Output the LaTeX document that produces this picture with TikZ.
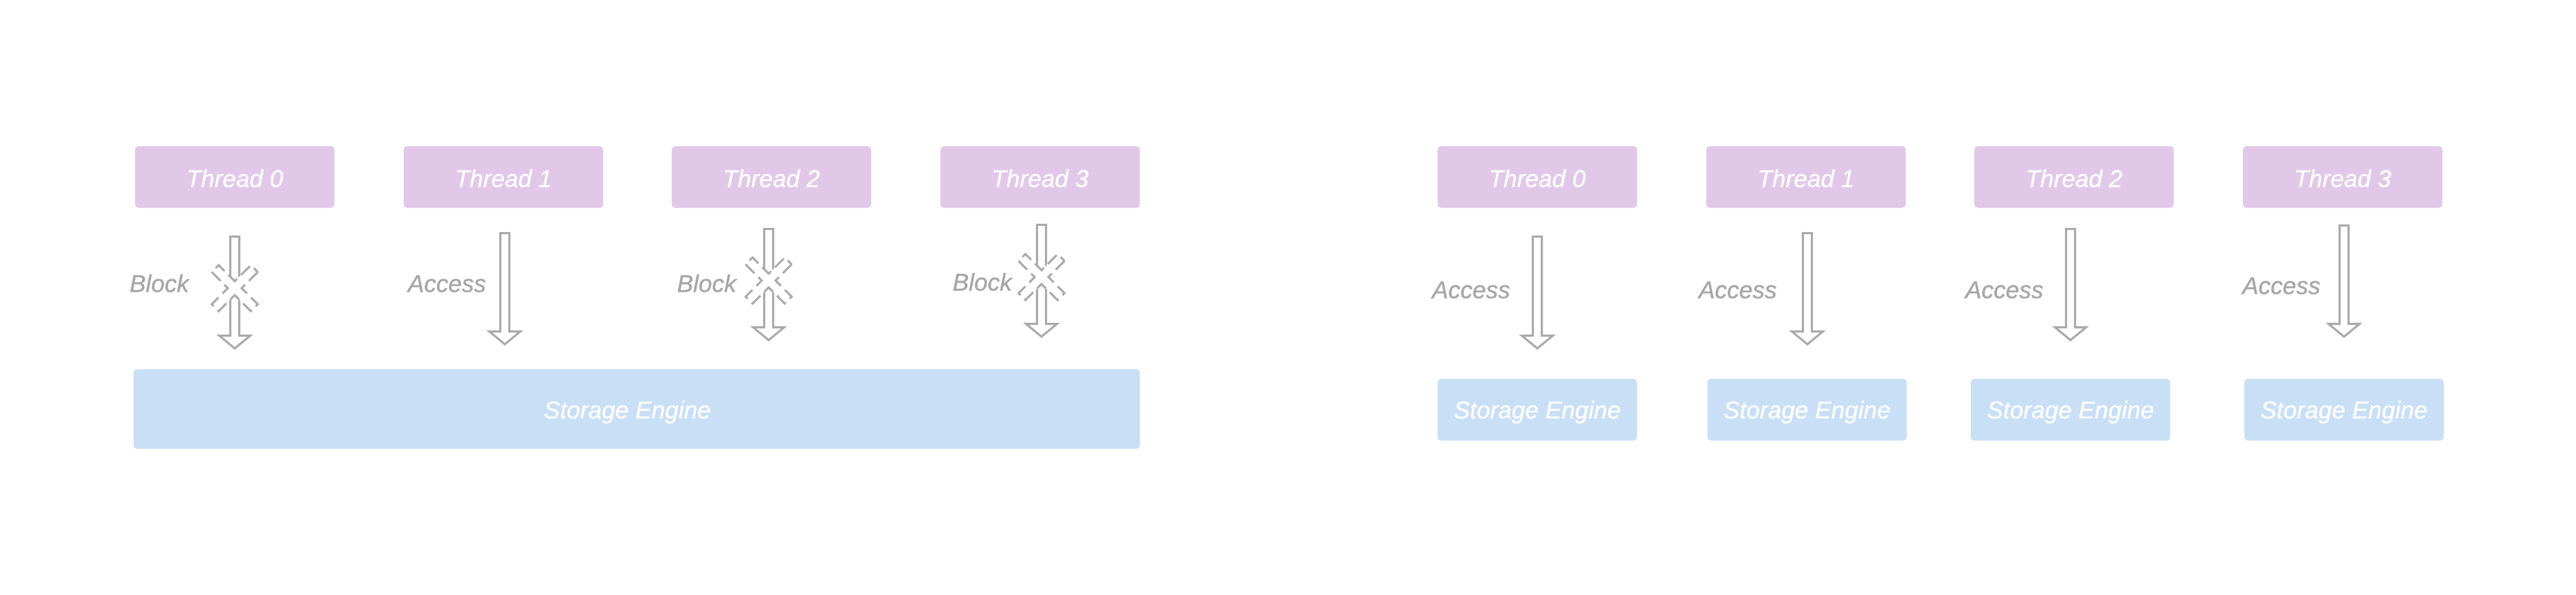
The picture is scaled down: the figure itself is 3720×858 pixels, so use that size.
\documentclass[tikz,border=0pt]{standalone}
\usepackage{fontspec}
\setmainfont{Liberation Sans}
\newfontfamily\medit{Liberation Sans}[UprightFont={* Italic}, FakeBold=0.7]
\definecolor{thrfill}{RGB}{225,200,232}
\definecolor{stgfill}{RGB}{201,223,246}
\definecolor{arrgray}{RGB}{170,170,170}
\definecolor{labelgray}{RGB}{166,166,166}
\newcommand\itfont{\medit\fontsize{17.5}{21}\selectfont}
\tikzset{
  threadbox/.style={fill=thrfill, rounded corners=2.5pt, minimum width=144pt, minimum height=44.5pt,
    inner sep=0pt, text=white, font=\itfont, text height=14.5pt, text depth=0pt},
  sebox/.style={fill=stgfill, rounded corners=2.5pt, minimum width=144pt, minimum height=44.5pt,
    inner sep=0pt, text=white, font=\itfont, text height=12.5pt, text depth=0pt},
  labeltext/.style={text=labelgray, font=\itfont, anchor=base, inner sep=0pt},
  sewhite/.style={text=white, font=\itfont, anchor=base, inner sep=0pt},
  barrowline/.style={draw=arrgray, line width=1.5pt, fill=white, line join=miter},
  blockx/.style={draw=arrgray, line width=1.5pt, fill=white, dash pattern=on 9pt off 4pt},
}
% block arrow: #1 = named top coordinate, #2 = length (px)
\newcommand\blockarrow[2]{%
  \draw[barrowline, shift={(#1)}] (-6.5,1.5) -- (6.5,1.5) -- (6.5,#2-20.5) -- (22.5,#2-20.5)
    -- (0,#2-2) -- (-22.5,#2-20.5) -- (-6.5,#2-20.5) -- cycle;}
% dashed block cross: #1 = named centre coordinate
\newcommand\blockcross[1]{%
  \draw[blockx, shift={(#1)}, rotate=45] (40,7) -- (7,7) -- (7,40) -- (-7,40) -- (-7,7) -- (-40,7)
    -- (-40,-7) -- (-7,-7) -- (-7,-40) -- (7,-40) -- (7,-7) -- (40,-7) -- cycle;}
\begin{document}
\begin{tikzpicture}[x=0.5pt, y=-0.5pt]
\useasboundingbox (0,0) rectangle (3720,858);

% ---------------- left diagram ----------------
\node[threadbox] (lt0) at (339,255.5) {Thread 0};
\node[threadbox] (lt1) at (727,255.5) {Thread 1};
\node[threadbox] (lt2) at (1114,255.5) {Thread 2};
\node[threadbox] (lt3) at (1502,255.5) {Thread 3};

\node[sebox, minimum width=726.5pt, minimum height=57.5pt] (lse) at (919.5,590.5) {};
\node[sewhite] (lsetext) at (906,604) {Storage Engine};

\coordinate (la0) at (339,340);
\coordinate (la1) at (729,335);
\coordinate (la2) at (1110,329);
\coordinate (la3) at (1504,323);
\blockarrow{la0}{165}
\blockarrow{la1}{164}
\blockarrow{la2}{164}
\blockarrow{la3}{165}

\coordinate (lx0) at (339,416);
\coordinate (lx2) at (1110,405);
\coordinate (lx3) at (1504,400);
\blockcross{lx0}
\blockcross{lx2}
\blockcross{lx3}

\node[labeltext] (lb0) at (230,421.5) {Block};
\node[labeltext] (lac1) at (645.5,421.5) {Access};
\node[labeltext] (lb2) at (1020.5,421.5) {Block};
\node[labeltext] (lb3) at (1418.5,419.5) {Block};

% ---------------- right diagram ----------------
\node[threadbox] (rt0) at (2220,255.5) {Thread 0};
\node[threadbox] (rt1) at (2608,255.5) {Thread 1};
\node[threadbox] (rt2) at (2995,255.5) {Thread 2};
\node[threadbox] (rt3) at (3383,255.5) {Thread 3};

\node[sebox] (rse0) at (2220,591.5) {Storage Engine};
\node[sebox] (rse1) at (2609.5,591.5) {Storage Engine};
\node[sebox] (rse2) at (2990,591.5) {Storage Engine};
\node[sebox] (rse3) at (3385,591.5) {Storage Engine};

\coordinate (ra0) at (2220,340);
\coordinate (ra1) at (2610,335);
\coordinate (ra2) at (2990,329);
\coordinate (ra3) at (3385,324);
\blockarrow{ra0}{165}
\blockarrow{ra1}{164}
\blockarrow{ra2}{164}
\blockarrow{ra3}{164}

\node[labeltext] (rac0) at (2124.5,430.5) {Access};
\node[labeltext] (rac1) at (2509.5,430.5) {Access};
\node[labeltext] (rac2) at (2894.5,430.5) {Access};
\node[labeltext] (rac3) at (3294.5,424.5) {Access};
\end{tikzpicture}
\end{document}
